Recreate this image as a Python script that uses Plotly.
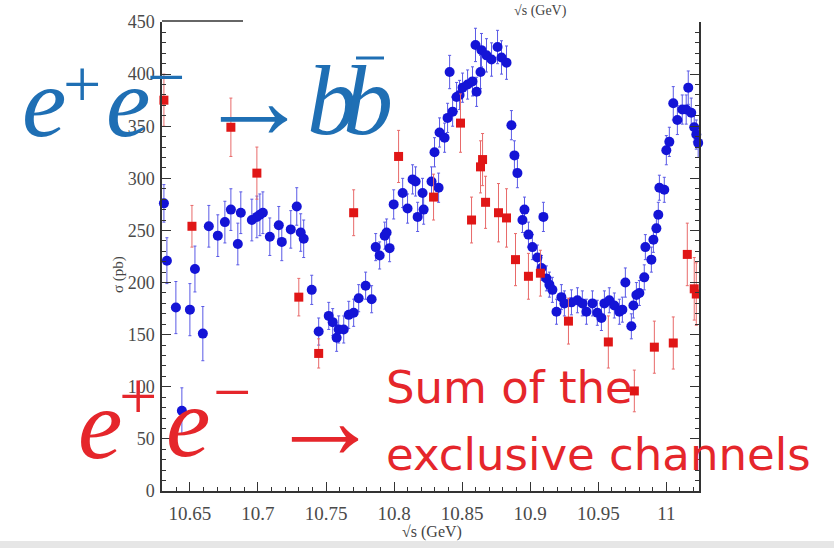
import plotly.graph_objects as go

# ---------------- data ----------------
# e+e- -> b bbar (blue circles)
bb_x = [10.6309, 10.6331, 10.6397, 10.6441, 10.6500, 10.6537, 10.6595, 10.6639, 10.6705, 10.6757,
        10.6801, 10.6852, 10.6874, 10.6955, 10.6992, 10.7014, 10.7036, 10.7087, 10.7153, 10.7175,
        10.7241, 10.7285, 10.7314, 10.7336, 10.7395, 10.7446, 10.7520, 10.7549, 10.7578, 10.7593,
        10.7630, 10.7667, 10.7703, 10.7740, 10.7791, 10.7835, 10.7865, 10.7894, 10.7931, 10.7945,
        10.7967, 10.7997, 10.8063, 10.8099, 10.8136, 10.8158, 10.8173, 10.8209, 10.8217, 10.8275,
        10.8297, 10.8327, 10.8334, 10.8371, 10.8393, 10.8408, 10.8430, 10.8459, 10.8481, 10.8503,
        10.8540, 10.8576, 10.8606, 10.8598, 10.8635, 10.8642, 10.8679, 10.8716, 10.8760, 10.8789,
        10.8826, 10.8862, 10.8884, 10.8906, 10.8943, 10.8958, 10.8987, 10.9016, 10.9053, 10.9083,
        10.9097, 10.9119, 10.9141, 10.9163, 10.9193, 10.9229, 10.9251, 10.9303, 10.9347, 10.9383,
        10.9413, 10.9457, 10.9493, 10.9523, 10.9545, 10.9581, 10.9618, 10.9655, 10.9677, 10.9699,
        10.9743, 10.9758, 10.9780, 10.9802, 10.9838, 10.9846, 10.9890, 10.9905, 10.9927, 10.9941,
        10.9949, 10.9985, 11.0000, 11.0022, 11.0051, 11.0081, 11.0117, 11.0146, 11.0161, 11.0183,
        11.0205, 11.0220, 11.0234]
bb_y = [276, 221, 176, 77, 174, 213, 151, 254, 245, 258,
        270, 237, 267, 260, 263, 265, 267, 244, 255, 239,
        251, 273, 248, 242, 193, 153, 168, 162, 147, 155,
        155, 169, 171, 185, 197, 184, 234, 226, 245, 248,
        233, 275, 286, 271, 299, 297, 263, 286, 270, 297,
        325, 291, 344, 339, 358, 402, 364, 378, 380, 387,
        390, 393, 383, 428, 402, 423, 418, 414, 426, 416,
        411, 351, 322, 305, 260, 270, 246, 234, 224, 214,
        263, 204, 198, 193, 172, 186, 180, 181, 183, 180,
        172, 180, 171, 166, 180, 183, 178, 172, 174, 200,
        158, 178, 188, 190, 205, 234, 222, 241, 252, 265,
        291, 289, 327, 335, 372, 356, 366, 366, 387, 363,
        349, 342, 334]
bb_err = [18, 22, 25, 22, 25, 22, 26, 20, 20, 20,
          20, 20, 20, 20, 20, 20, 20, 18, 18, 18,
          18, 18, 18, 18, 14, 13, 13, 13, 13, 13,
          13, 13, 13, 13, 13, 13, 13, 13, 13, 13,
          13, 14, 14, 14, 14, 14, 14, 14, 14, 14,
          14, 14, 14, 14, 14, 16, 14, 14, 14, 14,
          14, 14, 14, 16, 16, 16, 16, 16, 16, 16,
          16, 14, 14, 14, 12, 12, 12, 12, 12, 12,
          14, 12, 12, 12, 12, 12, 12, 12, 12, 12,
          12, 12, 12, 12, 12, 12, 12, 12, 12, 14,
          12, 12, 12, 12, 12, 12, 12, 12, 12, 12,
          12, 12, 14, 14, 16, 14, 14, 14, 16, 14,
          14, 14, 14]

# sum of exclusive channels (red squares)
ex_x = [10.6309, 10.6515, 10.6801, 10.6992, 10.7300, 10.7446, 10.7703, 10.8033, 10.8290, 10.8488,
        10.8569, 10.8635, 10.8650, 10.8672, 10.8767, 10.8826, 10.8892, 10.8987, 10.9075, 10.9281,
        10.9574, 10.9765, 10.9912, 11.0051, 11.0154, 11.0205, 11.0220]
ex_y = [375, 254, 349, 305, 186, 132, 267, 321, 282, 353,
        260, 311, 318, 277, 267, 262, 222, 206, 209, 163,
        143, 96, 138, 142, 227, 194, 189]
ex_err = [25, 20, 28, 25, 18, 14, 22, 25, 22, 28,
          22, 25, 25, 25, 28, 28, 25, 22, 22, 22,
          25, 20, 25, 25, 30, 30, 30]

x_title = "√s (GeV)"
y_title = "σ (pb)"

W, H = 834, 548
def px(x):
    return x / W
def py(y):
    return 1 - y / H

BLUE_TXT = "#1f6fb4"
RED_TXT = "#e5262b"

fig = go.Figure()
fig.add_trace(go.Scatter(
    x=bb_x, y=bb_y, mode="markers", cliponaxis=False,
    marker=dict(symbol="circle", size=10, color="#1414d6"),
    error_y=dict(type="data", array=bb_err, color="#5a5ae6", thickness=1, width=1.5),
))
fig.add_trace(go.Scatter(
    x=ex_x, y=ex_y, mode="markers", cliponaxis=False,
    marker=dict(symbol="square", size=9, color="#e01616"),
    error_y=dict(type="data", array=ex_err, color="#e86a6a", thickness=1, width=1.5),
))

axis_font = dict(family="Liberation Serif", size=19, color="#4a4a4a")
fig.update_layout(
    width=W, height=H, margin=dict(l=0, r=0, t=0, b=0, autoexpand=False),
    paper_bgcolor="white", plot_bgcolor="white", showlegend=False,
    xaxis=dict(domain=[162 / W, 699 / W], range=[10.6295, 11.024], automargin=False,
               showline=True, linecolor="#333", linewidth=1.5, mirror=False,
               ticks="inside", ticklen=9, tickwidth=1.3, tickcolor="#333",
               tick0=10.65, dtick=0.05, showgrid=False, zeroline=False,
               tickfont=axis_font, ticklabelstandoff=4,
               minor=dict(ticks="inside", ticklen=4, tickcolor="#333", dtick=0.01, tick0=10.6, showgrid=False)),
    yaxis=dict(domain=[1 - 491 / H, 1 - 22 / H], range=[0, 450], automargin=False,
               showline=True, linecolor="#333", linewidth=1.5, mirror="ticks",
               ticks="inside", ticklen=9, tickwidth=1.3, tickcolor="#333",
               tick0=0, dtick=50, showgrid=False, zeroline=False,
               tickfont=dict(family="Liberation Serif", size=18, color="#4a4a4a"), ticklabelstandoff=2,
               minor=dict(ticks="inside", ticklen=4, tickcolor="#333", dtick=10, tick0=0, showgrid=False)),
)

ann = []
def glyph(text, x, y, size, color, family="Liberation Serif", xanchor="center", angle=0):
    ann.append(dict(text=text, x=px(x), y=py(y), xref="paper", yref="paper",
                    xanchor=xanchor, yanchor="middle", showarrow=False, textangle=angle,
                    font=dict(family=family, size=size, color=color)))

# blue formula e+ e- -> b bbar
S = 100
A = 112
glyph("<i>e</i>", 44, 102, S, BLUE_TXT)
glyph("+", 82, 84, 68, BLUE_TXT)
glyph("<i>e</i>", 128, 102, S, BLUE_TXT)
glyph("−", 166, 77, 68, BLUE_TXT)
glyph("→", 254, 100, A, BLUE_TXT)
glyph("<i>b</i>", 332, 101, S, BLUE_TXT)
glyph("<i>b</i>", 368, 101, S, BLUE_TXT)

# red formula e+ e- ->
glyph("<i>e</i>", 100, 424, S, RED_TXT)
glyph("+", 138, 396, 68, RED_TXT)
glyph("<i>e</i>", 188, 422, S, RED_TXT)
glyph("−", 232, 392, 68, RED_TXT)
glyph("→", 325, 420, A, RED_TXT)

glyph("Sum of the", 384, 387, 45, RED_TXT, family="DejaVu Sans", xanchor="left")
glyph("exclusive channels", 384, 454, 45, RED_TXT, family="DejaVu Sans", xanchor="left")

# axis titles
glyph(x_title, 432, 532, 16, "#444")
glyph(y_title, 118, 275, 15, "#444", angle=-90)
glyph(x_title, 540, 11, 14, "#444")

fig.update_layout(annotations=ann)

fig.update_layout(shapes=[
    # bar over the second b
    dict(type="line", xref="paper", yref="paper", x0=px(356), x1=px(384), y0=py(58), y1=py(58),
         line=dict(color=BLUE_TXT, width=3)),
    # visible fragment of the upper frame
    dict(type="line", xref="paper", yref="paper", x0=px(162), x1=px(243), y0=py(21), y1=py(21),
         line=dict(color="#333", width=1.5)),
    # grey strip at the bottom of the slide
    dict(type="rect", xref="paper", yref="paper", x0=0, x1=1, y0=0, y1=py(541),
         fillcolor="#e6e6e6", line=dict(width=0)),
])

fig.write_html("out.html", config={"displayModeBar": False},
               post_script="document.body.style.margin='0px';document.body.style.overflow='hidden';")
